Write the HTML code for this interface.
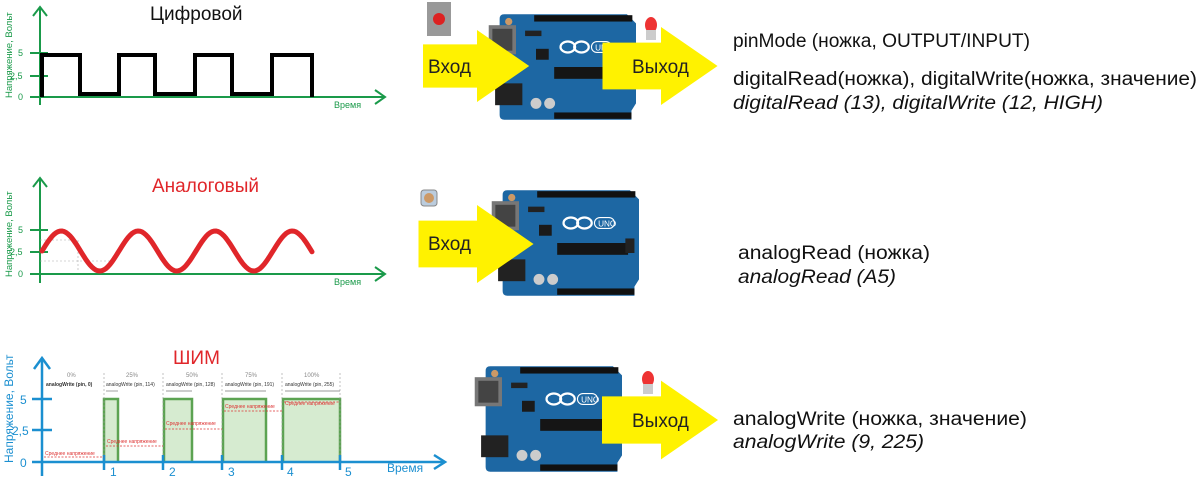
<!DOCTYPE html>
<html><head><meta charset="utf-8"><style>
body{margin:0;width:1200px;height:480px;background:#fff;overflow:hidden;position:relative;font-family:"Liberation Sans",sans-serif}
</style></head><body>
<svg width="1200" height="480" style="position:absolute;left:0;top:0" font-family="Liberation Sans, sans-serif">
<defs>
<symbol id="uno" viewBox="-15 0 165 120" overflow="visible">
<path d="M5 2 H140 L150 12 V100 L145 108 V118 H5 Q0 118 0 113 V7 Q0 2 5 2Z" fill="#1d67a3"/>
<rect x="38" y="3" width="108" height="7" fill="#111"/>
<rect x="60" y="110" width="85" height="7" fill="#111"/>
<rect x="60" y="60" width="78" height="13" fill="#151515"/>
<rect x="-12" y="14" width="30" height="32" fill="#777"/>
<rect x="-8" y="18" width="22" height="24" fill="#444"/>
<rect x="-5" y="78" width="30" height="24" fill="#222"/>
<circle cx="40" cy="100" r="6" fill="#ccc"/><circle cx="55" cy="100" r="6" fill="#ccc"/>
<rect x="40" y="40" width="14" height="12" fill="#1a1a1a"/>
<rect x="28" y="20" width="18" height="6" fill="#222"/>
<ellipse cx="75" cy="38" rx="8" ry="6" fill="none" stroke="#fff" stroke-width="2.5"/>
<ellipse cx="90" cy="38" rx="8" ry="6" fill="none" stroke="#fff" stroke-width="2.5"/>
<rect x="101" y="32" width="22" height="12" rx="6" fill="none" stroke="#fff" stroke-width="1.2"/>
<text x="105" y="42" font-size="9" fill="#fff">UNO</text>
<rect x="135" y="55" width="10" height="16" fill="#222"/>
<circle cx="10" cy="10" r="4" fill="#c96"/>
</symbol>
<symbol id="arr" viewBox="0 0 120 80" overflow="visible">
<polygon points="0,16 60,16 60,0 118,40 60,80 60,64 0,64" fill="#fff200"/>
</symbol>
</defs>

<!-- Digital chart -->
<g stroke="#1a9a4a" stroke-width="2" fill="none">
<line x1="40" y1="8" x2="40" y2="105"/><polyline points="33,16 40,7 47,16"/>
<line x1="30" y1="97" x2="385" y2="97"/><polyline points="375,90 385,97 375,104"/>
<line x1="30" y1="53" x2="48" y2="53"/><line x1="30" y1="76" x2="48" y2="76"/>
</g>
<g font-size="9" fill="#1a9a4a"><text x="18" y="56">5</text><text x="10" y="79">2,5</text><text x="18" y="100">0</text>
<text x="334" y="108">Время</text>
<text transform="translate(12,98) rotate(-90)" font-size="9.5">Напряжение, Вольт</text></g>
<polyline points="42,97 42,55 80,55 80,94 119,94 119,55 155,55 155,94 195,94 195,55 232,55 232,94 272,94 272,55 312,55 312,97" fill="none" stroke="#000" stroke-width="4"/>
<text x="150" y="20" font-size="19" fill="#111">Цифровой</text>

<!-- Analog chart -->
<g stroke="#1a9a4a" stroke-width="2" fill="none">
<line x1="40" y1="178" x2="40" y2="283"/><polyline points="33,187 40,178 47,187"/>
<line x1="30" y1="274" x2="385" y2="274"/><polyline points="375,267 385,274 375,281"/>
<line x1="30" y1="230" x2="48" y2="230"/><line x1="30" y1="252" x2="48" y2="252"/>
</g>
<g font-size="9" fill="#1a9a4a"><text x="18" y="233">5</text><text x="10" y="255">2,5</text><text x="18" y="277">0</text>
<text x="334" y="285">Время</text>
<text transform="translate(12,277) rotate(-90)" font-size="9.5">Напряжение, Вольт</text></g>
<g stroke="#aaa" stroke-width="0.6" stroke-dasharray="2,2" fill="none"><line x1="40" y1="240" x2="75" y2="240"/><line x1="40" y1="261" x2="110" y2="261"/><line x1="78" y1="240" x2="78" y2="272"/></g>
<path id="sine" fill="none" stroke="#e0262a" stroke-width="5" stroke-linecap="round"/>
<text x="152" y="192" font-size="19" fill="#e0262a">Аналоговый</text>

<!-- PWM chart -->
<g fill="#d6ebd0" stroke="#5ca352" stroke-width="2.5">
<polyline points="104,462 104,399 118,399 118,462"/>
<polyline points="164,462 164,399 192,399 192,462"/>
<polyline points="223,462 223,399 266,399 266,462"/>
<polyline points="283,462 283,399 340,399 340,462"/>
</g>
<g stroke="#1b8fd0" stroke-width="2.5" fill="none">
<line x1="42" y1="360" x2="42" y2="476"/><polyline points="34,369 42,358 50,369"/>
<line x1="32" y1="462" x2="445" y2="462"/><polyline points="434,455 445,462 434,469"/>
<line x1="32" y1="399" x2="52" y2="399"/><line x1="32" y1="430" x2="52" y2="430"/>
<line x1="104" y1="455" x2="104" y2="470"/><line x1="163" y1="455" x2="163" y2="470"/><line x1="222" y1="455" x2="222" y2="470"/><line x1="282" y1="455" x2="282" y2="470"/><line x1="340" y1="455" x2="340" y2="470"/>
</g>
<g fill="#1b8fd0" font-size="12"><text x="20" y="404">5</text><text x="12" y="435">2,5</text><text x="20" y="467">0</text>
<text x="110" y="476">1</text><text x="169" y="476">2</text><text x="228" y="476">3</text><text x="287" y="476">4</text><text x="345" y="476">5</text>
<text x="387" y="472">Время</text>
<text transform="translate(13,463) rotate(-90)" font-size="12">Напряжение, Вольт</text></g>
<g stroke="#999" stroke-width="0.6" stroke-dasharray="2,2"><line x1="104" y1="373" x2="104" y2="455"/><line x1="163" y1="373" x2="163" y2="455"/><line x1="222" y1="373" x2="222" y2="455"/><line x1="282" y1="373" x2="282" y2="455"/><line x1="340" y1="373" x2="340" y2="455"/></g>
<g font-size="5" fill="#333"><text x="46" y="386" font-weight="bold">analogWrite (pin, 0)</text><text x="106" y="386">analogWrite (pin, 114)</text><text x="166" y="386">analogWrite (pin, 128)</text><text x="225" y="386">analogWrite (pin, 191)</text><text x="285" y="386">analogWrite (pin, 255)</text></g>
<g font-size="6" fill="#888"><text x="67" y="377">0%</text><text x="126" y="377">25%</text><text x="186" y="377">50%</text><text x="245" y="377">75%</text><text x="304" y="377">100%</text></g>
<g stroke="#777" stroke-width="0.7"><line x1="106" y1="391" x2="118" y2="391"/><line x1="166" y1="391" x2="192" y2="391"/><line x1="225" y1="391" x2="266" y2="391"/><line x1="285" y1="391" x2="340" y2="391"/></g>
<g stroke="#d33" stroke-width="0.8" stroke-dasharray="2,1.5"><line x1="44" y1="457" x2="104" y2="457"/><line x1="106" y1="446" x2="163" y2="446"/><line x1="165" y1="429" x2="222" y2="429"/><line x1="224" y1="411" x2="282" y2="411"/><line x1="284" y1="402" x2="340" y2="402"/></g>
<g font-size="5" fill="#d33"><text x="45" y="455">Среднее напряжение</text><text x="107" y="443">Среднее напряжение</text><text x="166" y="425">Среднее напряжение</text><text x="225" y="408">Среднее напряжение</text><text x="285" y="405">Среднее напряжение</text></g>
<text x="173" y="364" font-size="19" fill="#e0262a">ШИМ</text>

<!-- Boards -->
<use href="#uno" x="486" y="8" width="150" height="118"/>
<use href="#uno" x="489" y="184" width="150" height="118"/>
<use href="#uno" x="472" y="360" width="150" height="118"/>
<rect x="427" y="2" width="24" height="34" fill="#999"/><circle cx="439" cy="19" r="6" fill="#d22"/>
<ellipse cx="651" cy="25" rx="6" ry="8" fill="#e33"/><rect x="646" y="30" width="10" height="10" fill="#ccc"/>
<ellipse cx="648" cy="379" rx="6" ry="8" fill="#e33"/><rect x="643" y="384" width="10" height="10" fill="#ccc"/>
<rect x="421" y="190" width="16" height="16" rx="3" fill="#bcd" stroke="#888"/><circle cx="429" cy="198" r="5" fill="#c96"/>
<use href="#arr" x="418" y="30" width="118" height="72"/>
<use href="#arr" x="602" y="27" width="118" height="78"/>
<use href="#arr" x="418" y="205" width="118" height="78"/>
<use href="#arr" x="602" y="380" width="118" height="80"/>
<g font-size="19" fill="#222"><text x="428" y="73">Вход</text><text x="632" y="73">Выход</text><text x="428" y="250">Вход</text><text x="632" y="427">Выход</text></g>

<g font-size="19" fill="#111" lengthAdjust="spacingAndGlyphs">
<text x="733" y="47" textLength="297" lengthAdjust="spacingAndGlyphs">pinMode (ножка, OUTPUT/INPUT)</text>
<text x="733" y="85" textLength="464" lengthAdjust="spacingAndGlyphs">digitalRead(ножка), digitalWrite(ножка, значение)</text>
<text x="733" y="109" textLength="370" lengthAdjust="spacingAndGlyphs" font-style="italic">digitalRead (13), digitalWrite (12, HIGH)</text>
<text x="738" y="259" textLength="192" lengthAdjust="spacingAndGlyphs">analogRead (ножка)</text>
<text x="738" y="283" textLength="158" lengthAdjust="spacingAndGlyphs" font-style="italic">analogRead (A5)</text>
<text x="733" y="425" textLength="294" lengthAdjust="spacingAndGlyphs">analogWrite (ножка, значение)</text>
<text x="733" y="448" textLength="191" lengthAdjust="spacingAndGlyphs" font-style="italic">analogWrite (9, 225)</text>
</g>
</svg>
<script>
var d="";for(var x=42;x<=312;x+=2){var y=251-20*Math.sin((x-42)*2*Math.PI/77);d+=(x==42?"M":"L")+x+" "+y.toFixed(1);}
document.getElementById("sine").setAttribute("d",d);
</script>
</body></html>
